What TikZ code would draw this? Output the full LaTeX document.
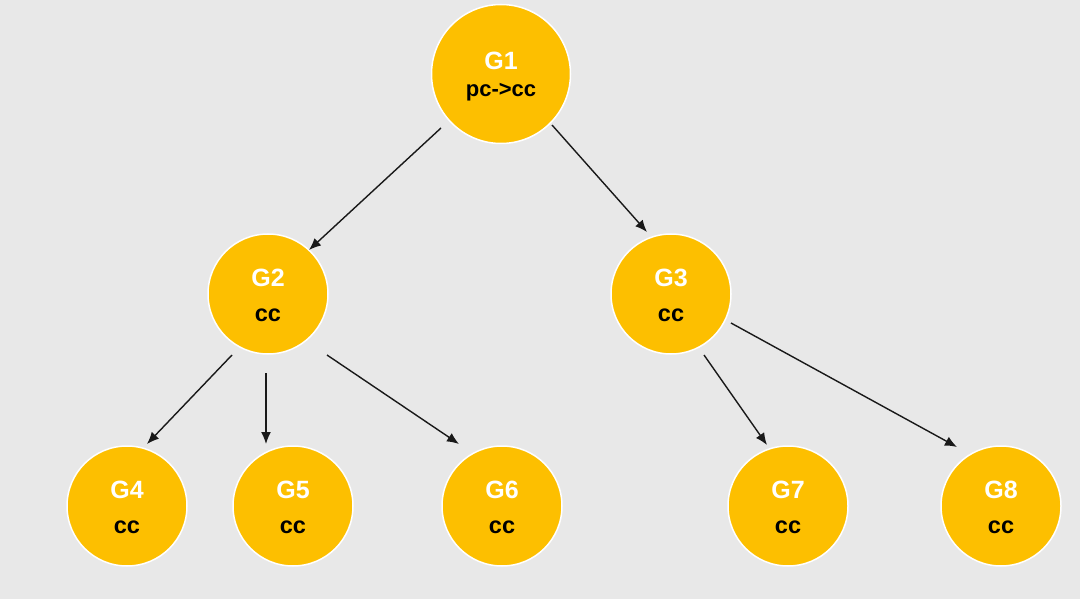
\documentclass[tikz,border=0pt]{standalone}
\usepackage{fontspec}
\setmainfont{Liberation Sans}
\usetikzlibrary{calc,arrows.meta}
\definecolor{bgc}{HTML}{E8E8E8}
\definecolor{gold}{HTML}{FDBF00}
\tikzset{
  gnode/.style={circle, fill=gold, draw=white, line width=1.5pt, minimum size=#1, inner sep=0pt},
  gnode/.default=120pt,
  gtitle/.style={anchor=base, inner sep=0pt, text=white, font=\bfseries\fontsize{25}{25}\selectfont},
  gsub/.style={anchor=base, inner sep=0pt, text=black, font=\bfseries\fontsize{23.5}{23.5}\selectfont},
  gsubsmall/.style={gsub, font=\bfseries\fontsize{22}{22}\selectfont},
  arr/.style={-{Latex[length=12pt,width=10pt]}, line width=1.4pt, draw=black!90},
}
\begin{document}
\begin{tikzpicture}[x=1pt,y=-1pt]
\fill[bgc] (0,0) rectangle (1080,599);
\useasboundingbox (0,0) rectangle (1080,599);
\node[gnode=139pt] (G1) at (501,74) {};
\node[gtitle] (G1t) at ($(G1)+(0,-4)$) {G1};
\node[gsubsmall] (G1s) at ($(G1)+(0,23)$) {pc->cc};
\foreach \n/\x/\y in {G2/268/294, G3/671/294, G4/127/506, G5/293/506, G6/502/506, G7/788/506, G8/1001/506}{
  \node[gnode] (\n) at (\x,\y) {};
  \node[gtitle] (\n t) at ($(\n)+(0,-8)$) {\n};
  \node[gsub] (\n s) at ($(\n)+(0,27)$) {cc};
}
\draw[arr] ($(G1)+(-60,54)$) -- ($(G2)+(41,-44)$);
\draw[arr] ($(G1)+(51,51)$) -- ($(G3)+(-24,-62)$);
\draw[arr] ($(G2)+(-36,61)$) -- ($(G4)+(20,-62)$);
\draw[arr] ($(G2)+(-2,79)$) -- ($(G5)+(-27,-62)$);
\draw[arr] ($(G2)+(59,61)$) -- ($(G6)+(-43,-62)$);
\draw[arr] ($(G3)+(33,61)$) -- ($(G7)+(-21,-61)$);
\draw[arr] ($(G3)+(60,29)$) -- ($(G8)+(-44,-59)$);
\end{tikzpicture}
\end{document}
